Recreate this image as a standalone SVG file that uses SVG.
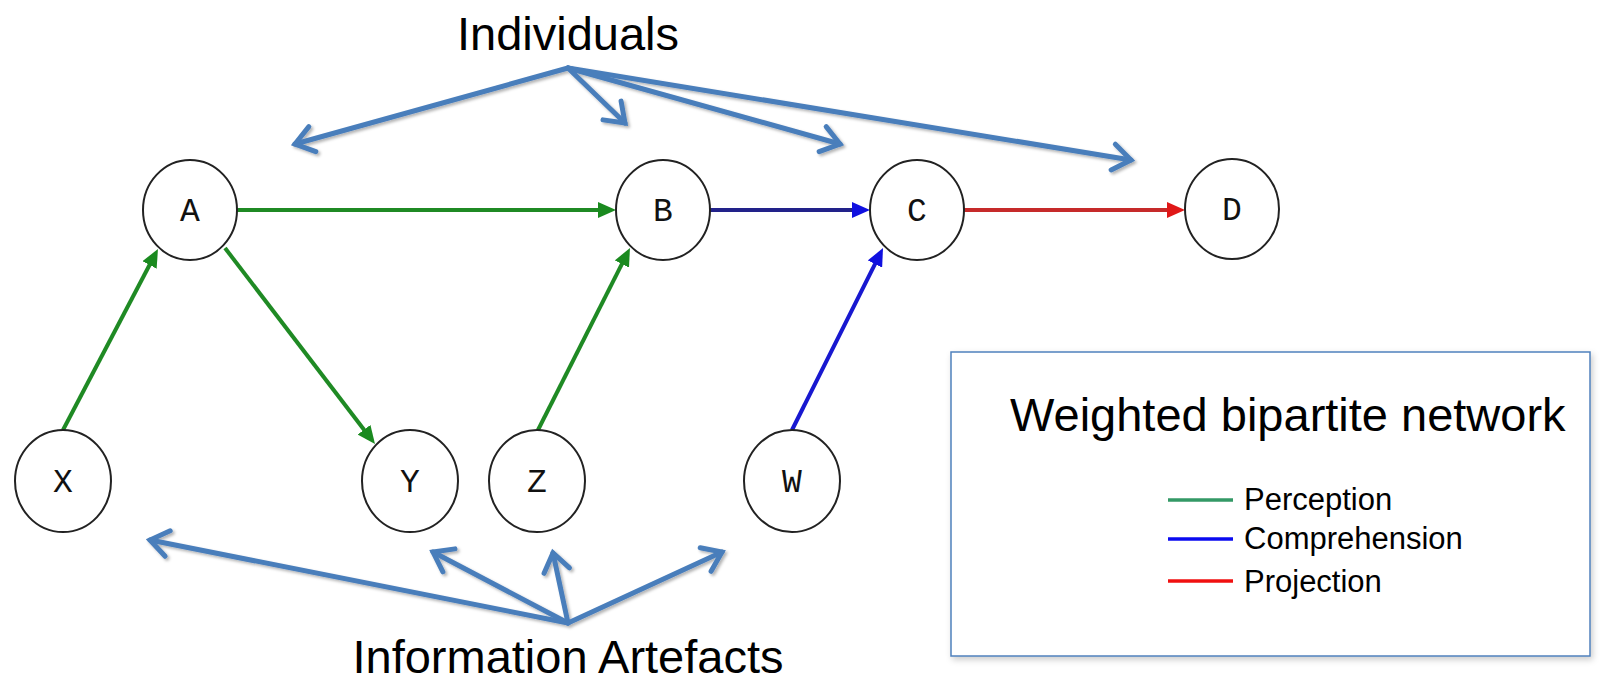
<svg xmlns="http://www.w3.org/2000/svg" width="1619" height="681" viewBox="0 0 1619 681">
  <style>
    .title { font-family: "Liberation Sans", Arial, sans-serif; font-size: 47px; fill: #000; }
    .legend-text { font-family: "Liberation Sans", Arial, sans-serif; font-size: 31px; fill: #000; }
    .node-shape { fill: #fff; stroke: #222; stroke-width: 2; }
    .node-label { font-family: "Courier New", "Liberation Mono", monospace; font-size: 33px; fill: #111; text-anchor: middle; }
    .callout { fill: none; stroke: #4a7ebb; stroke-width: 5; stroke-linecap: round; marker-end: url(#open-head); }
    .edge { fill: none; stroke-width: 4; }
    .perception { stroke: #1f8a24; marker-end: url(#head-green); }
    .comprehension { stroke: #22228a; marker-end: url(#head-blue); }
    .comprehension-bright { stroke: #1818d0; marker-end: url(#head-blue); }
    .projection { stroke: #c62a2a; marker-end: url(#head-red); }
    .legend-line { stroke-width: 3.5; }
  </style>
  <defs>
    <filter id="soft-shadow" x="-10%" y="-10%" width="120%" height="130%">
      <feDropShadow dx="2" dy="2" stdDeviation="1.5" flood-color="#000" flood-opacity="0.3"/>
    </filter>
    <filter id="box-shadow" x="-5%" y="-5%" width="110%" height="115%">
      <feDropShadow dx="2" dy="3" stdDeviation="3" flood-color="#000" flood-opacity="0.2"/>
    </filter>
    <!-- open chevron head for the callout arrows -->
    <marker id="open-head" markerUnits="userSpaceOnUse" viewBox="-4 -20 32 40" refX="22" refY="0" markerWidth="32" markerHeight="40" orient="auto">
      <path d="M4,-13 L22,0 L4,13" fill="none" stroke="#4a7ebb" stroke-width="5" stroke-linecap="round" stroke-linejoin="miter"/>
    </marker>
    <!-- filled heads for the network edges -->
    <marker id="head-green" markerUnits="userSpaceOnUse" viewBox="0 0 18 16" refX="5" refY="8" markerWidth="18" markerHeight="16" orient="auto">
      <path d="M0,0 L18,8 L0,16 z" fill="#1a8a1f"/>
    </marker>
    <marker id="head-blue" markerUnits="userSpaceOnUse" viewBox="0 0 18 16" refX="5" refY="8" markerWidth="18" markerHeight="16" orient="auto">
      <path d="M0,0 L18,8 L0,16 z" fill="#1010e0"/>
    </marker>
    <marker id="head-red" markerUnits="userSpaceOnUse" viewBox="0 0 18 16" refX="5" refY="8" markerWidth="18" markerHeight="16" orient="auto">
      <path d="M0,0 L18,8 L0,16 z" fill="#e01818"/>
    </marker>
  </defs>

  <rect x="0" y="0" width="1619" height="681" fill="#fff"/>

  <!-- group headings -->
  <text class="title" x="568" y="50" text-anchor="middle">Individuals</text>
  <text class="title" x="568" y="673" text-anchor="middle">Information Artefacts</text>

  <!-- callout arrows from the headings to the node rows -->
  <g id="callouts" filter="url(#soft-shadow)">
    <line class="callout" x1="568" y1="68" x2="295" y2="144"/>
    <line class="callout" x1="568" y1="68" x2="625" y2="123"/>
    <line class="callout" x1="568" y1="68" x2="840" y2="144"/>
    <line class="callout" x1="568" y1="68" x2="1131" y2="160"/>
    <line class="callout" x1="568" y1="623" x2="150" y2="540"/>
    <line class="callout" x1="568" y1="623" x2="433" y2="552"/>
    <line class="callout" x1="568" y1="623" x2="553" y2="553"/>
    <line class="callout" x1="568" y1="623" x2="722" y2="552"/>
  </g>

  <!-- network edges -->
  <g id="edges">
    <line class="edge perception" x1="237" y1="210" x2="603" y2="210"/>
    <line class="edge comprehension" x1="710" y1="210" x2="857" y2="210"/>
    <line class="edge projection" x1="964" y1="210" x2="1172" y2="210"/>
    <line class="edge perception" x1="63" y1="430" x2="151.9" y2="260.5"/>
    <line class="edge perception" x1="225" y1="248" x2="367.1" y2="433.7"/>
    <line class="edge perception" x1="538" y1="430" x2="624.1" y2="259.6"/>
    <line class="edge comprehension-bright" x1="792" y1="430" x2="877.2" y2="259.6"/>
  </g>

  <!-- individuals -->
  <g id="node-A">
    <ellipse class="node-shape" cx="190" cy="210" rx="47" ry="50"/>
    <text class="node-label" x="190" y="221">A</text>
  </g>
  <g id="node-B">
    <ellipse class="node-shape" cx="663" cy="210" rx="47" ry="50"/>
    <text class="node-label" x="663" y="221">B</text>
  </g>
  <g id="node-C">
    <ellipse class="node-shape" cx="917" cy="210" rx="47" ry="50"/>
    <text class="node-label" x="917" y="221">C</text>
  </g>
  <g id="node-D">
    <ellipse class="node-shape" cx="1232" cy="209" rx="47" ry="50"/>
    <text class="node-label" x="1232" y="220">D</text>
  </g>

  <!-- information artefacts -->
  <g id="node-X">
    <ellipse class="node-shape" cx="63" cy="481" rx="48" ry="51"/>
    <text class="node-label" x="63" y="492">X</text>
  </g>
  <g id="node-Y">
    <ellipse class="node-shape" cx="410" cy="481" rx="48" ry="51"/>
    <text class="node-label" x="410" y="492">Y</text>
  </g>
  <g id="node-Z">
    <ellipse class="node-shape" cx="537" cy="481" rx="48" ry="51"/>
    <text class="node-label" x="537" y="492">Z</text>
  </g>
  <g id="node-W">
    <ellipse class="node-shape" cx="792" cy="481" rx="48" ry="51"/>
    <text class="node-label" x="792" y="492">W</text>
  </g>

  <!-- legend -->
  <g id="legend">
    <rect x="951" y="352" width="639" height="304" fill="#fff" stroke="#4f81bd" stroke-width="1.5" filter="url(#box-shadow)"/>
    <text class="title" x="1010" y="431">Weighted bipartite network</text>
    <line class="legend-line" x1="1168" y1="500" x2="1233" y2="500" stroke="#339966"/>
    <text class="legend-text" x="1244" y="510">Perception</text>
    <line class="legend-line" x1="1168" y1="539" x2="1233" y2="539" stroke="#0a0af0"/>
    <text class="legend-text" x="1244" y="549">Comprehension</text>
    <line class="legend-line" x1="1168" y1="581" x2="1233" y2="581" stroke="#f01010"/>
    <text class="legend-text" x="1244" y="592">Projection</text>
  </g>
</svg>
